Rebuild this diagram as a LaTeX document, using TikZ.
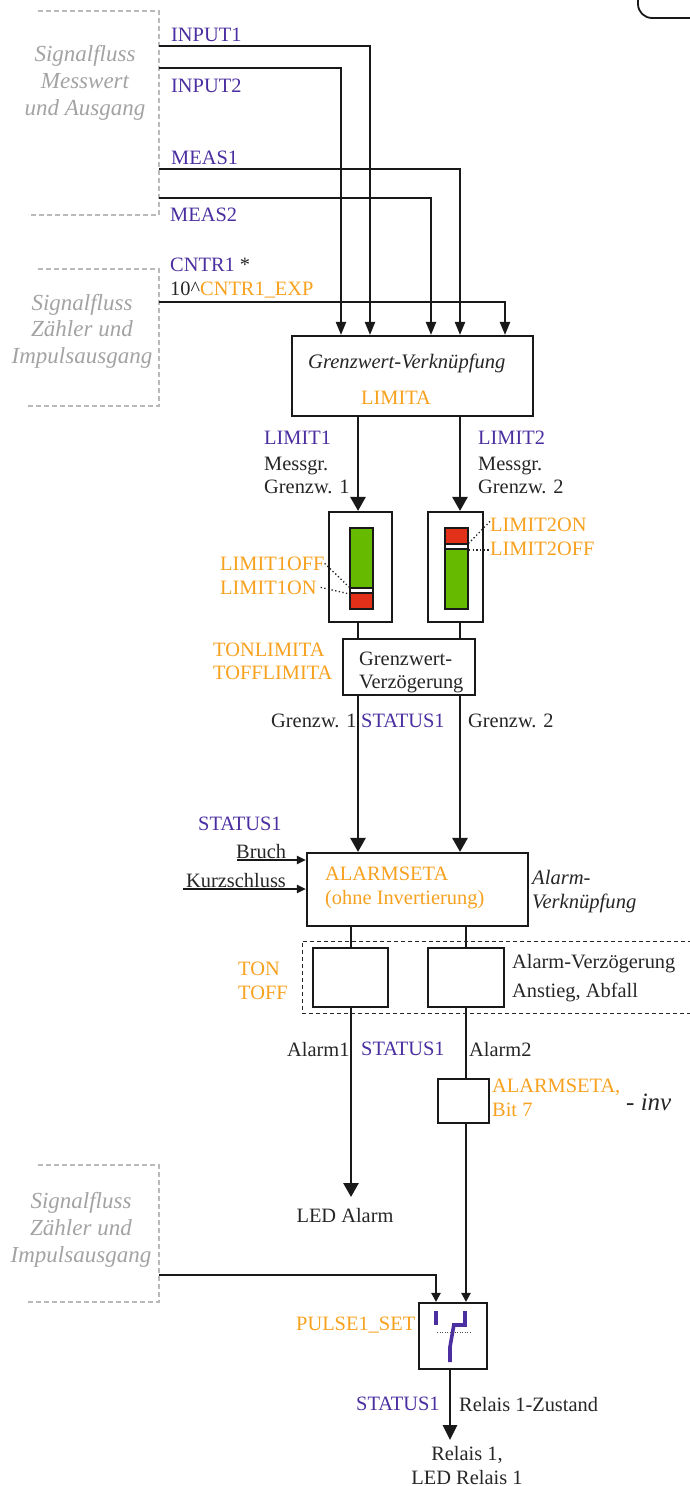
\documentclass[tikz,border=0pt]{standalone}
\usepackage{fontspec}
\setmainfont{Liberation Serif}
\usetikzlibrary{arrows.meta}
\definecolor{sigblue}{HTML}{4B2FA0}
\definecolor{parorange}{HTML}{F7A11F}
\definecolor{flowgrey}{HTML}{A3A3A3}
\definecolor{bargreen}{HTML}{66BB00}
\definecolor{barred}{HTML}{E33019}
\begin{document}
\begin{tikzpicture}[x=1pt,y=-1pt]
	\tikzset{lbl/.style={anchor=base west, inner sep=0pt, text=black!85, font=\fontsize{20.4}{24}\selectfont}}
	\tikzset{sig/.style={lbl, text=sigblue}}
	\tikzset{par/.style={lbl, text=parorange}}
	\tikzset{note/.style={lbl, font=\fontsize{20.6}{24}\selectfont\itshape}}
	\tikzset{flow/.style={anchor=base, inner sep=0pt, text=flowgrey, font=\fontsize{23}{27}\selectfont\itshape}}
	\tikzset{block/.style={shape=rectangle, draw=black!90, line width=2.1pt, inner sep=0pt, fill=white}}
	\tikzset{barpart/.style={shape=rectangle, draw=black!90, line width=1.8pt, inner sep=0pt, minimum width=23pt}}
	\tikzset{wire/.style={line width=2.1pt, black!90}}
	\tikzset{edge/.style={wire, -{Triangle[width=10pt,length=13pt]}}}
	\tikzset{edgesmall/.style={wire, -{Triangle[width=8pt,length=9pt]}}}
	\tikzset{edgebig/.style={line width=2.8pt, black!90, -{Triangle[width=15pt,length=14pt]}}}
	\tikzset{panel/.style={flowgrey!75, line width=1.2pt, dash pattern=on 5pt off 3pt}}
	\tikzset{leader/.style={line width=1.3pt, black!85, dash pattern=on 1.3pt off 2.4pt}}
	\useasboundingbox (0,0) rectangle (690,1486);
	%corner top right
	\draw[line width=1.8pt, black!90, rounded corners=14pt] (638,0) -- (638,18) -- (692,18);
	%grey panels
	\draw[panel] (38,11) -- (159,11) -- (159,215) -- (28,215);
	\draw[panel] (38,269) -- (159,269) -- (159,406) -- (28,406);
	\draw[panel] (38,1165) -- (159,1165) -- (159,1302) -- (28,1302);
	\node[flow] (flowa1) at (85,61) {Signalfluss};
	\node[flow] (flowa2) at (85,88) {Messwert};
	\node[flow] (flowa3) at (85,115) {und Ausgang};
	\node[flow] (flowb1) at (82,310) {Signalfluss};
	\node[flow] (flowb2) at (82,336) {Zähler und};
	\node[flow] (flowb3) at (82,363) {Impulsausgang};
	\node[flow] (flowc1) at (81,1208) {Signalfluss};
	\node[flow] (flowc2) at (81,1235) {Zähler und};
	\node[flow] (flowc3) at (81,1262) {Impulsausgang};
	%lanes
	\coordinate (lanea) at (341,0);
	\coordinate (laneb) at (370,0);
	\coordinate (lanec) at (431,0);
	\coordinate (laned) at (460,0);
	\coordinate (lanee) at (505,0);
	\coordinate (lanef) at (358,0);
	\coordinate (laneg) at (351,0);
	\coordinate (laneh) at (466,0);
	\coordinate (lanei) at (436,0);
	\coordinate (lanej) at (450,0);
	%free ends
	\coordinate (inputa) at (159,46);
	\coordinate (inputb) at (159,68);
	\coordinate (measa) at (159,169);
	\coordinate (measb) at (159,198);
	\coordinate (cntr) at (159,302);
	\coordinate (bruchin) at (237,860);
	\coordinate (kurzin) at (183,889);
	\coordinate (pulsein) at (159,1275);
	\coordinate (alarmjoin) at (351,1078);
	\coordinate (ledtip) at (351,1197);
	\coordinate (relaistip) at (450,1440);
	%blocks
	\node[block, minimum width=241pt, minimum height=80pt] (limita) at (412.5,376) {};
	\node[block, minimum width=63pt, minimum height=110pt] (barboxa) at (360.5,567) {};
	\node[block, minimum width=55pt, minimum height=110pt] (barboxb) at (455.5,567) {};
	\node[block, minimum width=132pt, minimum height=56pt] (delay) at (409,667) {};
	\node[block, minimum width=221pt, minimum height=73pt] (alarmset) at (417.5,889.5) {};
	\node[block, minimum width=75pt, minimum height=59pt] (tona) at (350.5,977.5) {};
	\node[block, minimum width=76pt, minimum height=59pt] (tonb) at (466,977.5) {};
	\node[block, minimum width=51pt, minimum height=44pt] (invbox) at (463.5,1101) {};
	\node[block, minimum width=68pt, minimum height=66pt] (relay) at (453,1336) {};
	%bars
	\node[barpart, fill=bargreen, minimum height=60pt] (baragreen) at (361.5,558) {};
	\node[barpart, fill=white, minimum height=5pt] (barawhite) at (361.5,590.5) {};
	\node[barpart, fill=barred, minimum height=16pt] (barared) at (361.5,601) {};
	\node[barpart, fill=barred, minimum height=16pt] (barbred) at (456.5,536) {};
	\node[barpart, fill=white, minimum height=5pt] (barbwhite) at (456.5,546.5) {};
	\node[barpart, fill=bargreen, minimum height=60pt] (barbgreen) at (456.5,579) {};
	%edges
	\draw[edge] (inputa) -| (laneb |- limita.north);
	\draw[edge] (inputb) -| (lanea |- limita.north);
	\draw[edge] (measa) -| (laned |- limita.north);
	\draw[edge] (measb) -| (lanec |- limita.north);
	\draw[edge] (cntr) -| (lanee |- limita.north);
	\draw[edgebig] (lanef |- limita.south) -- (lanef |- barboxa.north);
	\draw[edgebig] (laned |- limita.south) -- (laned |- barboxb.north);
	\draw[wire] (lanef |- barboxa.south) -- (lanef |- delay.north);
	\draw[wire] (laned |- barboxb.south) -- (laned |- delay.north);
	\draw[edgebig] (lanef |- delay.south) -- (lanef |- alarmset.north);
	\draw[edgebig] (laned |- delay.south) -- (laned |- alarmset.north);
	\draw[edgesmall] (bruchin) -- (bruchin -| alarmset.west);
	\draw[edgesmall] (kurzin) -- (kurzin -| alarmset.west);
	\draw[wire] (laneg |- alarmset.south) -- (laneg |- tona.north);
	\draw[wire] (laneh |- alarmset.south) -- (laneh |- tonb.north);
	\draw[wire] (laneg |- tona.south) -- (alarmjoin);
	\draw[edgebig] (alarmjoin) -- (ledtip);
	\draw[wire] (laneh |- tonb.south) -- (laneh |- invbox.north);
	\draw[line width=2.5pt, black!90, -{Triangle[width=9pt,length=9pt]}] (laneh |- invbox.south) -- (laneh |- relay.north);
	\draw[edgesmall, -{Triangle[width=9pt,length=9pt]}] (pulsein) -| (lanei |- relay.north);
	\draw[line width=2.8pt, black!90, -{Triangle[width=14pt,length=15pt]}] (lanej |- relay.south) -- (relaistip);
	%dashed group
	\draw[line width=1pt, black!85, dash pattern=on 4pt off 3pt] (692,941) -- (302,941) -- (302,1013) -- (692,1013);
	%switch
	\draw[line width=3.6pt, sigblue] (436,1311) -- (436,1325);
	\draw[line width=3.6pt, sigblue] (465,1311) -- (465,1325) -- (452,1325);
	\draw[line width=3.6pt, sigblue] (454,1324) -- (450,1347) -- (450,1362);
	\draw[leader, line width=1pt, black!70, dash pattern=on 1pt off 1.5pt] (437,1332) -- (470,1332);
	%labels
	\node[sig] (linputa) at (171,41) {INPUT1};
	\node[sig] (linputb) at (171,92) {INPUT2};
	\node[sig] (lmeasa) at (171,164) {MEAS1};
	\node[sig] (lmeasb) at (170,221) {MEAS2};
	\node[lbl] (lcntr) at (170,271) {\textcolor{sigblue}{CNTR1} *};
	\node[lbl] (lcntrexp) at (170,295) {10\^{}\textcolor{parorange}{CNTR1\_EXP}};
	\node[note] (lverkn) at (308,368) {Grenzwert-Verknüpfung};
	\node[par] (llimita) at (361,404) {LIMITA};
	\node[sig] (llimit1) at (264,444) {LIMIT1};
	\node[lbl] (lmessa) at (264,470) {Messgr.};
	\node[lbl] (lgrenza) at (264,493) {Grenzw. 1};
	\node[sig] (llimit2) at (478,444) {LIMIT2};
	\node[lbl] (lmessb) at (478,470) {Messgr.};
	\node[lbl] (lgrenzb) at (478,493) {Grenzw. 2};
	\node[par] (ltwoon) at (490,531) {LIMIT2ON};
	\node[par] (ltwooff) at (490,555) {LIMIT2OFF};
	\node[par] (loneoff) at (220,570) {LIMIT1OFF};
	\node[par] (loneon) at (220,594) {LIMIT1ON};
	\node[par] (ltonlim) at (213,656) {TONLIMITA};
	\node[par] (lofflim) at (213,679) {TOFFLIMITA};
	\node[lbl] (ldelaya) at (359,665) {Grenzwert-};
	\node[lbl] (ldelayb) at (359,688) {Verzögerung};
	\node[lbl] (lgwa) at (271,727) {Grenzw. 1};
	\node[sig] (lstata) at (361,727) {STATUS1};
	\node[lbl] (lgwb) at (468,727) {Grenzw. 2};
	\node[sig] (lstatb) at (198,830) {STATUS1};
	\node[lbl] (lbruch) at (236,858) {Bruch};
	\node[lbl] (lkurz) at (186,887) {Kurzschluss};
	\node[par] (lalarmset) at (325,880) {ALARMSETA};
	\node[par] (lohne) at (325,904) {(ohne Invertierung)};
	\node[note] (lalarmv) at (532,884) {Alarm-};
	\node[note] (lverk) at (532,908) {Verknüpfung};
	\node[par] (lton) at (238,975) {TON};
	\node[par] (ltoff) at (238,999) {TOFF};
	\node[lbl] (lalverz) at (512,968) {Alarm-Verzögerung};
	\node[lbl] (lanst) at (512,997) {Anstieg, Abfall};
	\node[lbl] (lalarma) at (287,1056) {Alarm1};
	\node[sig] (lstatc) at (361,1055) {STATUS1};
	\node[lbl] (lalarmb) at (469,1056) {Alarm2};
	\node[par] (lalinv) at (492,1092) {ALARMSETA,};
	\node[par] (lbit) at (492,1116) {Bit 7};
	\node[lbl, font=\fontsize{25}{29}\selectfont\itshape] (linv) at (626,1110) {- inv};
	\node[lbl, anchor=base] (lled) at (345,1222) {LED Alarm};
	\node[par] (lpulse) at (296,1330) {PULSE1\_SET};
	\node[sig] (lstatd) at (356,1410) {STATUS1};
	\node[lbl] (lrelz) at (459,1411) {Relais 1-Zustand};
	\node[lbl, anchor=base] (lrela) at (467,1460) {Relais 1,};
	\node[lbl, anchor=base] (lrelb) at (467,1484) {LED Relais 1};
	%dotted leaders
	\draw[leader] (loneoff.east) -- (barawhite.north west);
	\draw[leader] ([xshift=4pt]loneon.east) -- (barawhite.south west);
	\draw[leader] ([yshift=3pt]ltwoon.west) -- (barbwhite.north east);
	\draw[leader] (barbwhite.south east) -- (barbwhite.south east -| ltwooff.west);
\end{tikzpicture}
\end{document}
